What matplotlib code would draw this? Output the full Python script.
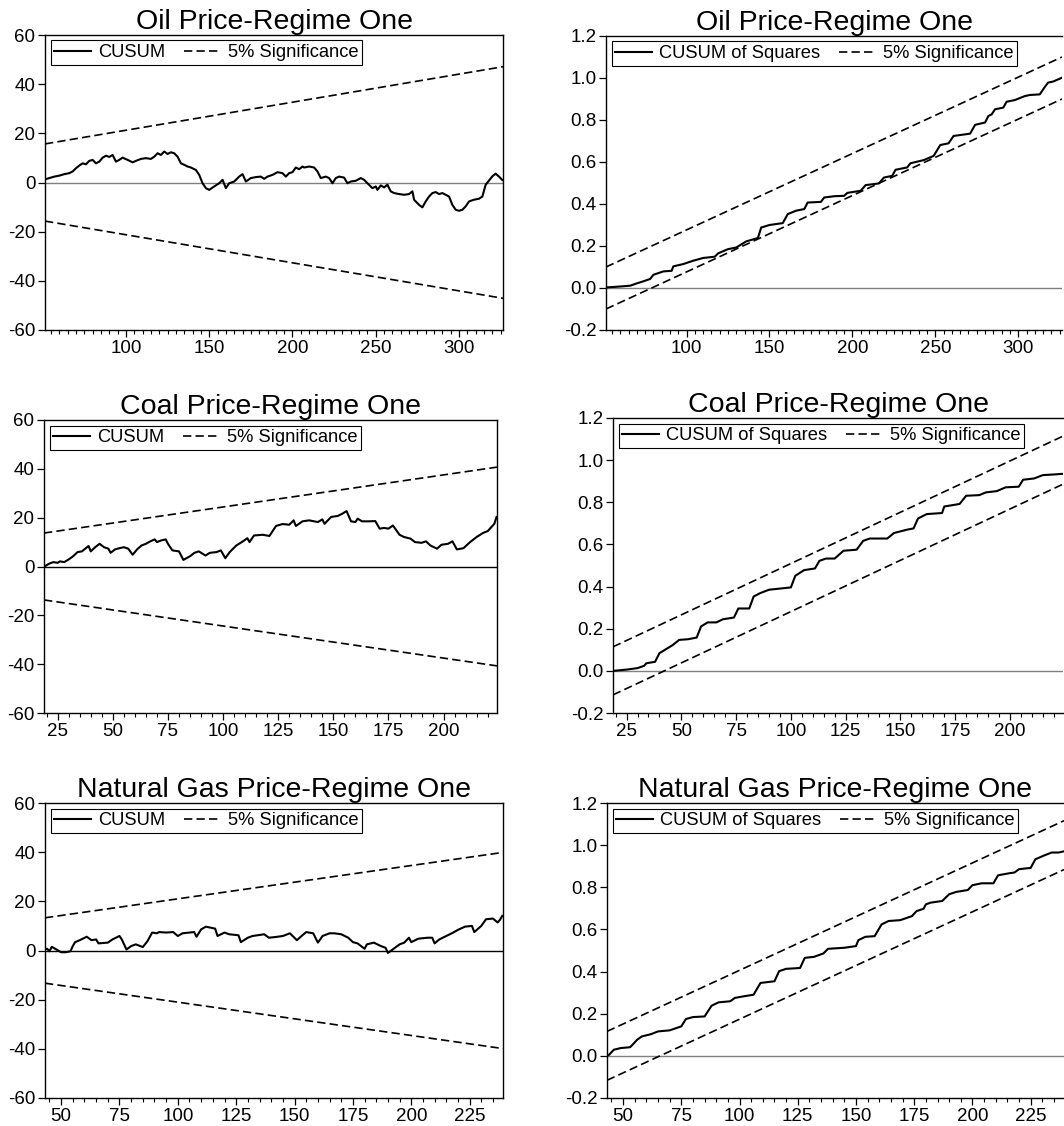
import matplotlib
matplotlib.use('Agg')
import matplotlib.pyplot as plt
from matplotlib.ticker import MultipleLocator, FormatStrFormatter

plt.rcParams['font.family'] = ['Liberation Sans', 'DejaVu Sans']
plt.rcParams['axes.unicode_minus'] = False

# ---- Oil price, regime one ----
oil_range = [51.4, 326.4]
oil_cusum_obs = [52, 54, 57, 60, 63, 66, 68, 70, 72, 74, 76, 78, 80, 82, 84, 86, 88, 90, 92, 94,
                 96, 98, 101, 104, 106, 109, 112, 115, 117, 119, 121, 123, 125, 127, 129, 131, 133,
                 135, 137, 139, 142, 144, 146, 148, 150, 153, 156, 158, 160, 162, 165, 168, 170,
                 172, 175, 178, 181, 183, 185, 188, 191, 194, 196, 198, 200, 202, 204, 206, 207,
                 210, 213, 215, 217, 220, 222, 224, 226, 228, 231, 233, 235, 238, 241, 243, 245,
                 248, 250, 251, 253, 255, 257, 259, 261, 264, 267, 270, 272, 273, 276, 278, 280,
                 282, 284, 286, 288, 290, 292, 294, 296, 298, 300, 302, 304, 306, 309, 312, 314,
                 316, 318, 320, 322, 324, 326]
oil_cusum = [1.4, 1.8, 2.4, 2.8, 3.4, 3.8, 4.5, 5.8, 6.9, 7.8, 7.4, 8.8, 9.2, 7.8, 8.5, 10.1, 10.9,
             10.4, 11.2, 8.5, 9.2, 10.1, 9.2, 8.2, 8.8, 9.6, 9.9, 9.6, 10.5, 11.9, 11.2, 12.6, 11.6,
             12.3, 11.9, 10.5, 7.8, 7.2, 6.5, 6.1, 5.1, 3.1, -0.3, -2.3, -3.0, -1.6, -0.3, 1.1,
             -2.3, -0.3, 0.4, 2.4, 3.4, 0.4, 1.8, 2.2, 2.4, 1.5, 2.4, 3.1, 4.2, 3.8, 2.4, 3.8, 4.2,
             6.1, 5.4, 6.5, 6.1, 6.5, 6.1, 4.5, 1.8, 2.4, 1.8, -0.3, 1.8, 2.4, 2.0, -0.3, 0.4, 0.7,
             1.8, 1.1, -0.3, -2.3, -1.6, -3.0, -1.2, -2.0, -0.9, -3.6, -4.3, -4.7, -5.0, -4.7,
             -3.6, -7.0, -9.1, -10.1, -7.7, -5.7, -4.3, -3.9, -4.7, -4.3, -5.0, -5.7, -9.1, -11.1,
             -11.5, -11.1, -9.7, -7.7, -7.0, -6.6, -5.7, -0.9, 0.8, 2.5, 3.6, 2.4, 1.0]
oil_cusum_upper = [15.7, 47.1]
oil_cusum_lower = [-15.7, -47.1]

oil_sq_obs = [52, 58, 66, 70, 74, 78, 80, 86, 91, 92, 98, 104, 110, 117, 119, 125, 130, 136, 143,
              145, 150, 158, 161, 166, 171, 173, 181, 183, 189, 195, 197, 205, 208, 216, 219, 224,
              226, 233, 235, 243, 249, 253, 258, 261, 271, 274, 280, 282, 284, 286, 291, 293, 298,
              304, 307, 313, 316, 318, 321, 326]
oil_sq = [0.003, 0.006, 0.011, 0.022, 0.032, 0.043, 0.063, 0.079, 0.082, 0.103, 0.114, 0.130,
          0.143, 0.149, 0.165, 0.185, 0.193, 0.222, 0.238, 0.288, 0.300, 0.309, 0.352, 0.368,
          0.376, 0.407, 0.410, 0.431, 0.437, 0.439, 0.453, 0.463, 0.490, 0.498, 0.526, 0.534,
          0.563, 0.574, 0.594, 0.609, 0.629, 0.681, 0.689, 0.724, 0.735, 0.777, 0.788, 0.819,
          0.827, 0.851, 0.859, 0.887, 0.895, 0.914, 0.919, 0.922, 0.957, 0.978, 0.983, 1.0]
oil_sq_upper = [0.10, 1.10]
oil_sq_lower = [-0.10, 0.90]

# ---- Coal price, regime one ----
coal_range = [18.8, 224.2]
coal_cusum_obs = [19, 21, 23, 25, 26, 28, 30, 32, 34, 36, 39, 40, 42, 44, 46, 48, 49, 51, 53, 55,
                  57, 59, 61, 63, 65, 67, 69, 70, 72, 74, 75, 77, 80, 82, 85, 87, 89, 92, 94, 97,
                  99, 101, 103, 106, 109, 111, 112, 114, 118, 121, 124, 127, 130, 132, 133, 136,
                  139, 143, 145, 146, 149, 152, 154, 156, 158, 160, 161, 163, 166, 169, 171, 173,
                  175, 177, 180, 182, 185, 187, 190, 192, 194, 197, 199, 202, 204, 206, 209, 212,
                  215, 218, 220, 222, 223, 224]
coal_cusum = [0.0, 1.1, 1.8, 1.5, 2.1, 1.8, 2.9, 4.2, 5.9, 6.2, 8.4, 6.2, 7.9, 9.3, 7.9, 7.3, 5.6,
              7.0, 7.5, 7.9, 7.3, 4.8, 7.0, 8.6, 9.3, 10.3, 11.1, 10.0, 10.7, 11.1, 9.3, 6.6, 6.2,
              2.7, 4.2, 5.6, 6.2, 4.5, 5.6, 5.9, 6.6, 3.4, 5.9, 8.6, 10.3, 11.6, 10.0, 12.7, 13.0,
              12.5, 16.6, 17.4, 17.1, 18.9, 16.6, 18.5, 18.9, 18.2, 19.3, 17.5, 20.3, 20.7, 21.6,
              22.7, 18.5, 18.2, 19.6, 18.5, 18.5, 18.6, 15.5, 15.8, 15.5, 16.8, 13.0, 12.1, 11.4,
              10.0, 9.7, 10.3, 8.6, 7.3, 8.9, 9.3, 10.3, 7.0, 7.5, 10.0, 12.1, 13.8, 14.5, 16.5,
              17.5, 20.3]
coal_cusum_upper = [13.7, 40.7]
coal_cusum_lower = [-13.7, -40.7]

coal_sq_obs = [19, 25, 30, 33, 34, 38, 40, 43, 46, 49, 53, 57, 59, 62, 66, 69, 74, 76, 81, 83, 86,
               90, 100, 102, 106, 111, 113, 116, 120, 124, 130, 133, 136, 144, 147, 153, 156, 158,
               162, 169, 170, 177, 180, 186, 189, 194, 198, 204, 206, 211, 215, 220, 224]
coal_sq = [0.0, 0.006, 0.013, 0.024, 0.036, 0.043, 0.084, 0.103, 0.122, 0.147, 0.150, 0.158,
           0.211, 0.230, 0.230, 0.245, 0.253, 0.296, 0.296, 0.353, 0.369, 0.385, 0.396, 0.451,
           0.478, 0.486, 0.522, 0.533, 0.533, 0.570, 0.575, 0.617, 0.628, 0.628, 0.654, 0.670,
           0.676, 0.723, 0.744, 0.749, 0.780, 0.792, 0.831, 0.834, 0.847, 0.853, 0.871, 0.874,
           0.907, 0.913, 0.929, 0.932, 0.935]
coal_sq_upper = [0.114, 1.114]
coal_sq_lower = [-0.114, 0.886]

# ---- Natural gas price, regime one ----
gas_range = [43.1, 239.3]
gas_cusum_obs = [43, 44, 45, 46, 48, 50, 52, 54, 55, 56, 58, 61, 63, 65, 66, 70, 72, 75, 76, 78,
                 80, 82, 85, 87, 89, 91, 92, 95, 98, 100, 102, 105, 107, 108, 110, 112, 114, 116,
                 117, 120, 122, 126, 127, 130, 132, 137, 139, 142, 145, 148, 151, 153, 155, 158,
                 160, 162, 165, 167, 170, 173, 175, 177, 180, 181, 184, 187, 189, 190, 192, 195,
                 197, 199, 200, 203, 207, 209, 210, 212, 215, 218, 220, 223, 226, 227, 230, 232,
                 235, 237, 238, 239]
gas_cusum = [0.4, 0.7, -0.3, 1.5, 0.4, -0.7, -0.7, -0.3, 1.8, 3.4, 4.2, 5.6, 4.2, 4.5, 2.9, 3.2,
             4.5, 5.9, 4.5, 0.4, 1.8, 2.5, 1.4, 3.8, 7.3, 7.0, 7.5, 7.3, 7.5, 5.9, 7.0, 7.3, 7.5,
             5.6, 8.6, 9.7, 9.3, 8.9, 5.9, 7.3, 6.6, 6.2, 3.4, 5.2, 5.9, 6.6, 5.2, 5.5, 5.9, 7.0,
             4.2, 5.9, 7.5, 7.0, 3.2, 5.9, 7.0, 7.0, 6.6, 5.2, 3.4, 2.9, 0.7, 2.5, 3.2, 1.8, 1.1,
             -1.0, 0.4, 2.5, 3.2, 5.2, 3.4, 4.8, 5.2, 5.2, 2.9, 4.5, 5.9, 7.3, 8.4, 9.7, 10.0, 7.5,
             10.0, 12.7, 13.0, 11.4, 12.5, 14.1]
gas_cusum_upper = [13.3, 39.9]
gas_cusum_lower = [-13.3, -39.9]

gas_sq_obs = [43, 44, 46, 49, 53, 54, 56, 58, 62, 65, 70, 75, 77, 80, 85, 88, 91, 96, 98, 102,
              106, 109, 115, 117, 120, 126, 128, 132, 136, 138, 145, 150, 151, 154, 158, 161, 164,
              169, 174, 176, 179, 180, 182, 187, 190, 193, 198, 200, 204, 209, 211, 216, 218, 220,
              225, 227, 231, 234, 237, 239]
gas_sq = [0.0, 0.005, 0.029, 0.037, 0.041, 0.052, 0.076, 0.092, 0.103, 0.116, 0.121, 0.140,
          0.175, 0.184, 0.187, 0.238, 0.254, 0.259, 0.275, 0.283, 0.290, 0.346, 0.354, 0.402,
          0.413, 0.417, 0.465, 0.470, 0.486, 0.508, 0.513, 0.521, 0.549, 0.565, 0.568, 0.624,
          0.640, 0.644, 0.663, 0.687, 0.698, 0.719, 0.727, 0.735, 0.767, 0.778, 0.787, 0.810,
          0.819, 0.819, 0.857, 0.867, 0.870, 0.886, 0.892, 0.933, 0.952, 0.965, 0.965, 0.970]
gas_sq_upper = [0.116, 1.116]
gas_sq_lower = [-0.116, 0.884]

W, H = 1064, 1126
fig = plt.figure(figsize=(W / 100, H / 100), dpi=100)


def add_axes(x0, y0, x1, y1):
    return fig.add_axes([x0 / W, 1 - y1 / H, (x1 - x0) / W, (y1 - y0) / H])


def draw_panel(ax, title, obs, vals, xr, upper, lower, label, squares, xmajor, zero_color):
    ax.plot(obs, vals, color='black', lw=1.5, label=label)
    ax.plot(xr, upper, color='black', lw=1.2, dashes=(5, 2.5), label='5% Significance')
    ax.plot(xr, lower, color='black', lw=1.2, dashes=(5, 2.5))
    ax.axhline(0, color=zero_color, lw=1.0, zorder=1)
    ax.set_xlim(xr)
    if squares:
        ax.set_ylim(-0.2, 1.2)
        ax.yaxis.set_major_locator(MultipleLocator(0.2))
        ax.yaxis.set_major_formatter(FormatStrFormatter('%.1f'))
        ax.spines['right'].set_visible(False)
    else:
        ax.set_ylim(-60, 60)
        ax.yaxis.set_major_locator(MultipleLocator(20))
        ax.yaxis.set_major_formatter(FormatStrFormatter('%d'))
    ax.xaxis.set_major_locator(MultipleLocator(xmajor))
    ax.xaxis.set_minor_locator(MultipleLocator(5))
    ax.xaxis.set_major_formatter(FormatStrFormatter('%d'))
    ax.tick_params(axis='both', which='major', direction='out', length=5, width=0.9,
                   labelsize=13.5, pad=2, colors='black')
    ax.tick_params(axis='x', which='minor', direction='out', length=3, width=0.8)
    for s in ax.spines.values():
        s.set_linewidth(1.0)
    ax.set_title(title, fontsize=20.5, pad=2)
    leg = ax.legend(loc='upper left', ncol=2, fontsize=13.2, frameon=True, fancybox=False,
                    edgecolor='black', framealpha=1, borderpad=0.2, borderaxespad=0.3,
                    handlelength=2.0, handletextpad=0.4, columnspacing=1.0)
    leg.get_frame().set_linewidth(0.8)


ax = add_axes(45, 35, 503, 330)
draw_panel(ax, 'Oil Price-Regime One', oil_cusum_obs, oil_cusum, oil_range,
           oil_cusum_upper, oil_cusum_lower, 'CUSUM', False, 50, '0.5')
ax = add_axes(606, 36, 1062, 330)
draw_panel(ax, 'Oil Price-Regime One', oil_sq_obs, oil_sq, oil_range,
           oil_sq_upper, oil_sq_lower, 'CUSUM of Squares', True, 50, '0.5')

ax = add_axes(44, 420, 497, 713)
draw_panel(ax, 'Coal Price-Regime One', coal_cusum_obs, coal_cusum, coal_range,
           coal_cusum_upper, coal_cusum_lower, 'CUSUM', False, 25, 'black')
ax = add_axes(613, 418, 1063, 713)
draw_panel(ax, 'Coal Price-Regime One', coal_sq_obs, coal_sq, coal_range,
           coal_sq_upper, coal_sq_lower, 'CUSUM of Squares', True, 25, '0.5')

ax = add_axes(45, 803, 503, 1098)
draw_panel(ax, 'Natural Gas Price-Regime One', gas_cusum_obs, gas_cusum, gas_range,
           gas_cusum_upper, gas_cusum_lower, 'CUSUM', False, 25, 'black')
ax = add_axes(607, 803, 1064, 1098)
draw_panel(ax, 'Natural Gas Price-Regime One', gas_sq_obs, gas_sq, gas_range,
           gas_sq_upper, gas_sq_lower, 'CUSUM of Squares', True, 25, '0.5')

fig.savefig('out.png', dpi=100)
